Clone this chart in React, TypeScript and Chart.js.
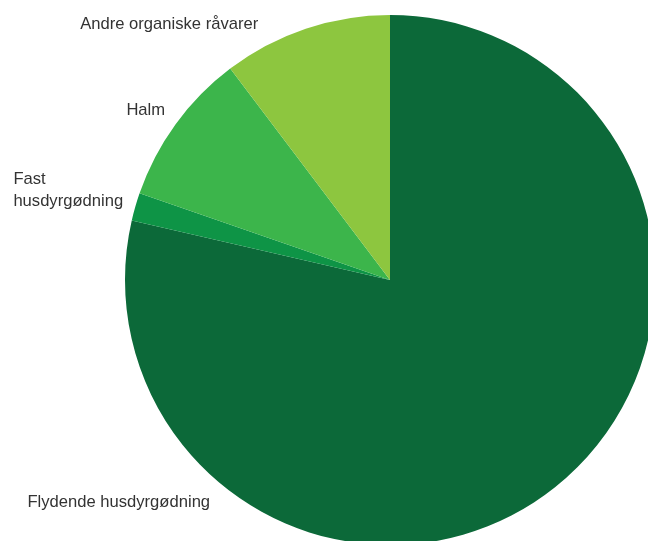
import React, { useEffect, useRef } from "react";
import { Chart, registerables } from "chart.js";

Chart.register(...registerables);

const categories: string[][] = [
  ["Flydende husdyrgødning"],
  ["Fast", "husdyrgødning"],
  ["Halm"],
  ["Andre organiske råvarer"],
];
const shares: number[] = [78.6, 1.7, 9.4, 10.3];
const colors: string[] = ["#0c6939", "#0e9446", "#3cb54b", "#8dc63f"];

// label anchor: angle (deg clockwise from 12 o'clock) and distance as a multiple of the radius
const labelAngles: number[] = [218.4, 285.5, 306.3, 332.3];
const labelDistances: number[] = [1.093, 1.045, 1.053, 1.07];

const outsideLabels = {
  id: "outsideLabels",
  afterDatasetsDraw(chart: any) {
    const meta = chart.getDatasetMeta(0);
    if (!meta.data.length) return;
    const arc: any = meta.data[0];
    const cx = arc.x;
    const cy = arc.y;
    const r = arc.outerRadius;
    const ctx = chart.ctx;
    ctx.save();
    ctx.font = "16.6px 'Liberation Sans', Arial, sans-serif";
    ctx.fillStyle = "#333333";
    ctx.textBaseline = "alphabetic";
    ctx.textAlign = "left";
    const lineH = 22;
    categories.forEach((lines, i) => {
      const a = (labelAngles[i] * Math.PI) / 180;
      const d = labelDistances[i] * r;
      const ax = cx + d * Math.sin(a);
      const ay = cy - d * Math.cos(a);
      const w = Math.max(...lines.map((l) => ctx.measureText(l).width));
      const left = ax - w;
      lines.forEach((l, j) => {
        ctx.fillText(l, left, ay - (lines.length - 1 - j) * lineH);
      });
    });
    ctx.restore();
  },
};

export default function App() {
  const ref = useRef<HTMLCanvasElement | null>(null);
  useEffect(() => {
    if (!ref.current) return;
    const chart = new Chart(ref.current, {
      type: "pie",
      data: {
        labels: categories.map((c) => c.join(" ")),
        datasets: [
          {
            data: shares,
            backgroundColor: colors,
            borderWidth: 0,
          },
        ],
      },
      options: {
        responsive: false,
        animation: false,
        layout: { padding: 15 },
        plugins: {
          legend: { display: false },
          tooltip: { enabled: false },
        },
      },
      plugins: [outsideLabels],
    });
    return () => chart.destroy();
  }, []);
  return (
    <div
      style={{
        position: "fixed",
        left: 0,
        top: 0,
        width: 648,
        height: 541,
        overflow: "hidden",
        background: "#ffffff",
      }}
    >
      <canvas
        ref={ref}
        width={780}
        height={560}
        style={{ position: "absolute", left: 0, top: 0, width: 780, height: 560 }}
      />
    </div>
  );
}
